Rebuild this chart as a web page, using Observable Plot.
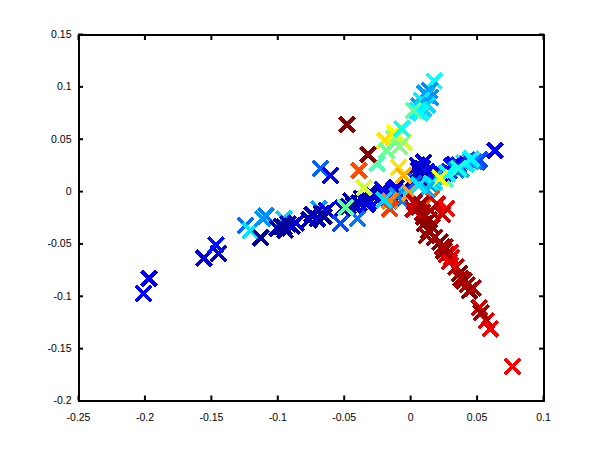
<!DOCTYPE html>
<html>
<head>
<meta charset="utf-8">
<script src="https://cdn.jsdelivr.net/npm/d3@7"></script>
<script src="https://cdn.jsdelivr.net/npm/@observablehq/plot@0.6"></script>
<style>html,body{margin:0;padding:0;background:#fff}svg{display:block}</style>
</head>
<body>
<div id="chart"></div>
<script>
// Colour value is a position on the jet colormap (0 dark blue .. 1 dark red)
const rightX = [0.0636,0.050,0.052,0.048,0.045,0.042,0.040,0.036,0.038,0.031,0.033,0.034,0.029,0.027,0.024,0.026,0.020,0.022,0.017,0.014,0.018,0.011,0.016,0.009,0.005,0.007,0.012,0.008,0.015,0.004,0.010,0.006];
const rightY = [0.0392,0.0285,0.0305,0.0285,0.0285,0.0265,0.0275,0.0255,0.0215,0.0240,0.0260,0.0205,0.0195,0.0175,0.0165,0.0120,0.0145,0.0170,0.0125,0.0125,0.0090,0.0130,0.0090,0.0220,0.0250,0.0160,0.0190,0.0120,0.0060,0.0100,0.0280,0.0200];
const rightC = [0.12,0.20,0.20,0.24,0.30,0.36,0.36,0.16,0.30,0.14,0.12,0.25,0.17,0.33,0.12,0.44,0.40,0.11,0.30,0.17,0.36,0.08,0.30,0.10,0.09,0.06,0.14,0.04,0.27,0.22,0.10,0.07];

const leftX = [-0.1242,-0.1205,-0.1091,-0.1115,-0.0954,-0.0692,-0.1128,-0.1004,-0.0974,-0.0943,-0.0923,-0.0893,-0.0863,-0.0953,-0.0762,-0.0732,-0.0702,-0.0672,-0.0632,-0.0742,-0.0652,-0.0510,-0.0470,-0.0430,-0.0390,-0.0350,-0.0310,-0.0270,-0.0230,-0.0190,-0.0150,-0.0120,-0.0080,-0.0450,-0.0410,-0.0370,-0.0330,-0.0290,-0.0250,-0.0210,-0.0170,-0.0130,-0.0090,-0.0050,-0.0310,-0.0210,-0.0110];
const leftY = [-0.0325,-0.0373,-0.0230,-0.0260,-0.0260,-0.0163,-0.0440,-0.0350,-0.0330,-0.0370,-0.0310,-0.0330,-0.0300,-0.0340,-0.0270,-0.0230,-0.0260,-0.0210,-0.0180,-0.0220,-0.0240,-0.0160,-0.0140,-0.0130,-0.0110,-0.0080,-0.0090,-0.0050,-0.0060,-0.0030,-0.0040,-0.0010,-0.0030,-0.0090,-0.0150,-0.0065,-0.0120,-0.0030,-0.0085,-0.0005,-0.0060,0.0015,-0.0050,0.0030,-0.0010,0.0020,0.0040];
const leftC = [0.23,0.35,0.25,0.27,0.33,0.28,0.03,0.05,0.03,0.04,0.07,0.03,0.09,0.02,0.05,0.03,0.08,0.03,0.10,0.06,0.02,0.08,0.10,0.05,0.07,0.09,0.11,0.06,0.08,0.10,0.07,0.12,0.09,0.04,0.06,0.03,0.10,0.05,0.12,0.04,0.09,0.06,0.11,0.08,0.07,0.12,0.10];

const farX = [-0.2010,-0.1970,-0.1557,-0.1447,-0.1467,-0.0678,-0.0602,-0.0527,-0.0400,-0.0490];
const farY = [-0.0975,-0.083,-0.0638,-0.059,-0.051,0.022,0.0153,-0.0306,-0.026,-0.0150];
const farC = [0.13,0.11,0.09,0.07,0.14,0.22,0.11,0.20,0.24,0.47];

const upX = [0.0177,0.0142,0.0120,0.0150,0.0090,0.0105,0.0125,0.0082,0.0060,0.0095,0.0050,0.0075,0.0022,-0.0127,-0.0105,-0.012,-0.0194,-0.0052,-0.0085,-0.0067,-0.018,-0.0254,-0.035,-0.032,-0.0479];
const upY = [0.1054,0.0966,0.0920,0.0900,0.0860,0.0940,0.0830,0.0870,0.0820,0.0790,0.0770,0.0750,0.0774,0.0507,0.0530,0.0560,0.0488,0.0470,0.0430,0.0600,0.0390,0.0268,0.0038,0.0354,0.0640];
const upC = [0.38,0.26,0.30,0.27,0.24,0.28,0.34,0.36,0.28,0.33,0.36,0.37,0.47,0.50,0.56,0.62,0.65,0.58,0.50,0.38,0.48,0.45,0.58,1.00,1.00];

const middleX = [-0.009,-0.0052,-0.0389,-0.0025,0.0157,0.028,0.0456,0.022,0.036,-0.010,-0.0067,-0.0157,-0.0157,-0.0007,0.0157,0.012,0.006,-0.020];
const middleY = [0.0230,0.0153,0.0200,-0.0040,0.0076,0.0170,0.0315,0.0130,0.0220,-0.0040,-0.0090,-0.0086,-0.0163,-0.0010,-0.0067,0.0020,0.0060,-0.0080];
const middleC = [0.65,0.70,0.80,0.34,0.36,0.38,0.37,0.62,0.40,0.27,0.25,0.75,0.82,0.72,0.80,0.30,0.35,0.34];

const downX = [0.0768,0.060,0.057,0.0516,0.053,0.044,0.047,0.0425,0.040,0.0367,0.034,0.038,0.0307,0.030,0.027,0.029,0.026,0.025,0.022,0.024,0.0135,0.0105,0.012,0.016,0.018,0.014,0.006,0.003,0.009,0.002,0.020,0.027,0.024,0.010,0.015,0.008];
const downY = [-0.1670,-0.1310,-0.1233,-0.1110,-0.1157,-0.0946,-0.0920,-0.0890,-0.0850,-0.0784,-0.0720,-0.0830,-0.0630,-0.0580,-0.0600,-0.0670,-0.0530,-0.0564,-0.0480,-0.0530,-0.0373,-0.0306,-0.0420,-0.0340,-0.0440,-0.0270,-0.0150,-0.0100,-0.0200,-0.0170,-0.0120,-0.0163,-0.0220,-0.0240,-0.0180,-0.0120];
const downC = [0.88,0.88,0.90,0.92,0.97,1.00,0.96,0.95,0.97,1.00,0.95,0.96,0.90,0.88,0.92,0.90,0.94,0.98,1.00,0.96,1.00,1.00,0.96,0.98,0.97,0.99,0.96,0.94,0.97,0.92,0.90,0.88,0.93,0.98,0.96,0.97];

const xTicks = [-0.25,-0.2,-0.15,-0.1,-0.05,0,0.05,0.1];
const yTicks = [-0.2,-0.15,-0.1,-0.05,0,0.05,0.1,0.15];
const jetStops = [0,0.125,0.375,0.625,0.875,1];
const jetColors = ["#00007f","#0000ff","#00ffff","#ffff00","#ff0000","#7f0000"];

const groups = [
  [rightX,rightY,rightC],[leftX,leftY,leftC],[farX,farY,farC],
  [upX,upY,upC],[middleX,middleY,middleC],[downX,downY,downC]
];
const points = groups.flatMap(([xs,ys,cs]) => xs.map((x,i) => ({x, y:ys[i], c:cs[i]})));

const fmt = d => String(d);
const blank = () => "";
const font = {fontFamily:"'Liberation Sans',Helvetica,Arial,sans-serif", fontSize:10.5};

const chart = Plot.plot({
  width:600, height:450,
  marginLeft:78, marginRight:57, marginTop:34, marginBottom:49.5,
  style:{background:"#fff", color:"#000", ...font, overflow:"visible"},
  x:{domain:[-0.25,0.1], axis:null},
  y:{domain:[-0.2,0.15], axis:null},
  color:{type:"linear", domain:jetStops, range:jetColors, clamp:true},
  marks:[
    Plot.dot(points,{x:"x",y:"y",stroke:d=>d.c,symbol:"times",r:7,strokeWidth:3.8,shapeRendering:"crispEdges"}),
    Plot.frame({stroke:"#000",strokeWidth:2,shapeRendering:"crispEdges"}),
    Plot.axisX({anchor:"bottom",ticks:xTicks,tickSize:-5,tickPadding:18,tickFormat:fmt,label:null,strokeWidth:2,...font}),
    Plot.axisX({anchor:"top",ticks:xTicks,tickSize:-5,tickFormat:blank,label:null,strokeWidth:2}),
    Plot.axisY({anchor:"left",ticks:yTicks,tickSize:-5,tickPadding:12,tickFormat:fmt,label:null,strokeWidth:2,...font}),
    Plot.axisY({anchor:"right",ticks:yTicks,tickSize:-5,tickFormat:blank,label:null,strokeWidth:2})
  ]
});
document.getElementById("chart").appendChild(chart);
</script>
</body>
</html>
